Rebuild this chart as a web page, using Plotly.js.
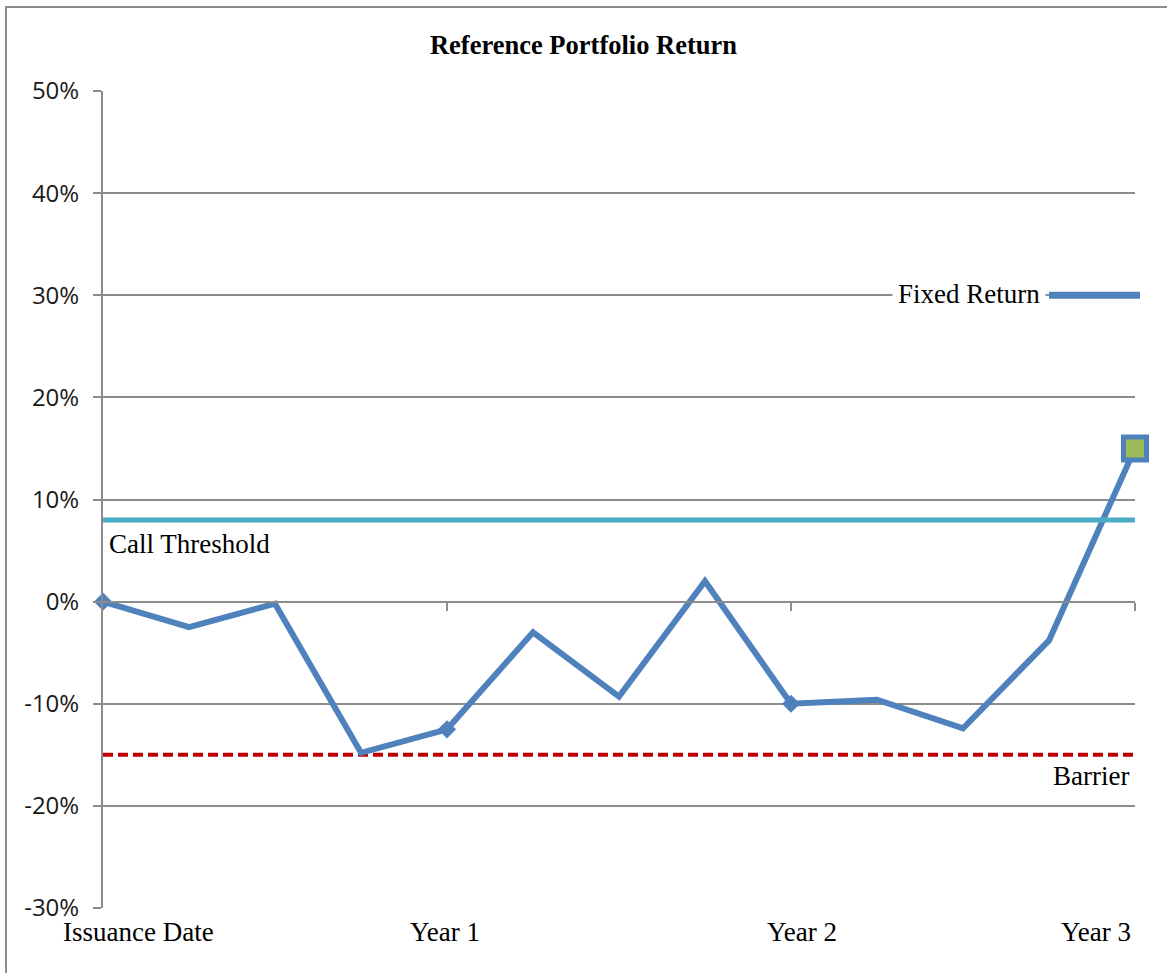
<!DOCTYPE html>
<html><head><meta charset="utf-8">
<script src="https://cdn.plot.ly/plotly-3.0.1.min.js"></script>
<style>html,body{margin:0;padding:0;background:#fff}#chart{width:1167px;height:973px}</style>
</head><body><div id="chart"></div>
<script>
// ---- data ----
const periods = [0,1,2,3,4,5,6,7,8,9,10,11,12];
const portfolioReturn = [0, -2.5, -0.2, -14.8, -12.5, -3.0, -9.3, 2.0, -10.0, -9.6, -12.4, -3.8, 15.0];
const xTickVals = [0, 4, 8, 12];
const xTickLabels = ['Issuance Date', 'Year 1', 'Year 2', 'Year 3'];
const yTickVals = [-30, -20, -10, 0, 10, 20, 30, 40, 50];
const yTickLabels = ['-30%', '-20%', '-10%', '0%', '10%', '20%', '30%', '40%', '50%'];
const callThreshold = 8;
const barrier = -15;
const fixedReturn = 30;
const seriesLabels = ['Call Threshold', 'Barrier', 'Fixed Return'];

// ---- styles ----
const BLUE = '#4f81bd', GREEN = '#9bbb59', CYAN = '#4bacc6', RED = '#c00000', GRID = '#8c8c8c';
const SERIF = 'Liberation Serif, Times New Roman, serif';
const SANS = 'Open Sans, Noto Sans, sans-serif';
const last = periods.length - 1;
const xFirst = periods[0], xLast = periods[last];

const symbols = periods.map(i => i === xLast ? 'square' : (xTickVals.includes(i) ? 'diamond' : 'circle'));
const sizes = periods.map(i => i === xLast ? 23 : (xTickVals.includes(i) ? 14 : 0));
const fills = periods.map(i => i === xLast ? GREEN : BLUE);
const lineW = periods.map(i => i === xLast ? 5 : 0);

const traces = [
  {x: [xFirst, xLast], y: [callThreshold, callThreshold], xaxis: 'x2', mode: 'lines',
   line: {color: CYAN, width: 5}, hoverinfo: 'skip', showlegend: false},
  {x: [xFirst, xLast], y: [barrier, barrier], mode: 'lines',
   line: {color: RED, width: 4, dash: '10px,5px'}, hoverinfo: 'skip', showlegend: false},
  {x: periods, y: portfolioReturn, mode: 'lines+markers',
   line: {color: BLUE, width: 6},
   marker: {symbol: symbols, size: sizes, color: fills, opacity: 1, line: {color: BLUE, width: lineW}},
   showlegend: false, cliponaxis: false}
];

const annotations = xTickVals.map((v, i) => ({
  x: v, xref: 'x', y: 0, yref: 'paper', yanchor: 'top', yshift: -7,
  xanchor: i === 0 ? 'left' : (i === xTickVals.length - 1 ? 'right' : 'center'),
  xshift: i === 0 ? -42 : (i === xTickVals.length - 1 ? -2 : (i === 2 ? 11 : -2)),
  text: xTickLabels[i], showarrow: false, font: {family: SERIF, size: 27, color: '#000'}
}));
annotations.push(
  {x: xFirst, xref: 'x', y: callThreshold, yref: 'y', xanchor: 'left', yanchor: 'top', xshift: 4, yshift: -7,
   text: seriesLabels[0], showarrow: false, font: {family: SERIF, size: 27, color: '#000'}},
  {x: xLast, xref: 'x', y: barrier, yref: 'y', xanchor: 'right', yanchor: 'top', xshift: -4, yshift: -4,
   text: seriesLabels[1], showarrow: false, font: {family: SERIF, size: 27, color: '#000'}},
  {x: 11, xref: 'x', y: fixedReturn, yref: 'y', xanchor: 'right', yanchor: 'middle', xshift: -3, yshift: 1,
   text: seriesLabels[2], showarrow: false, bgcolor: '#fff', borderpad: 5,
   font: {family: SERIF, size: 27, color: '#000'}}
);

const layout = {
  width: 1167, height: 973,
  margin: {l: 103, r: 32, t: 91, b: 65},
  paper_bgcolor: '#fff', plot_bgcolor: '#fff',
  title: {text: '<b>Reference Portfolio Return</b>', x: 0.5, xref: 'container', xanchor: 'center',
          y: 0.954, yref: 'container', yanchor: 'middle',
          font: {family: SERIF, size: 26.5, color: '#000'}},
  xaxis: {range: [xFirst, xLast], showgrid: false, zeroline: false, showline: false,
          showticklabels: false, ticks: '', fixedrange: true},
  xaxis2: {range: [xFirst, xLast], overlaying: 'x', anchor: 'free', position: (0 - (-30)) / 80,
           showline: true, linecolor: GRID, linewidth: 2, ticks: 'outside', ticklen: 8, tickwidth: 2,
           tickcolor: GRID, tickvals: xTickVals.slice(1), showticklabels: false, showgrid: false, zeroline: false},
  yaxis: {range: [yTickVals[0], yTickVals[yTickVals.length - 1]], tickvals: yTickVals, ticktext: yTickLabels,
          showgrid: true, gridcolor: GRID, gridwidth: 2, zeroline: false,
          showline: true, linecolor: GRID, linewidth: 2, ticks: 'outside', ticklen: 8, tickwidth: 2, tickcolor: GRID,
          ticklabelstandoff: 9,
          tickfont: {family: SANS, size: 24, color: '#1a1a1a'}},
  shapes: [
    {type: 'line', xref: 'paper', yref: 'y', x0: 0.9167, x1: 1.0048, y0: fixedReturn, y1: fixedReturn,
     line: {color: BLUE, width: 7}},
    {type: 'rect', xref: 'paper', yref: 'paper', x0: -0.094, x1: 1.06, y0: -0.11, y1: 1.1028,
     line: {color: GRID, width: 2}, fillcolor: 'rgba(0,0,0,0)', layer: 'below'}
  ],
  annotations: annotations,
  showlegend: false
};

Plotly.newPlot('chart', traces, layout, {displayModeBar: false, staticPlot: true});
</script></body></html>
